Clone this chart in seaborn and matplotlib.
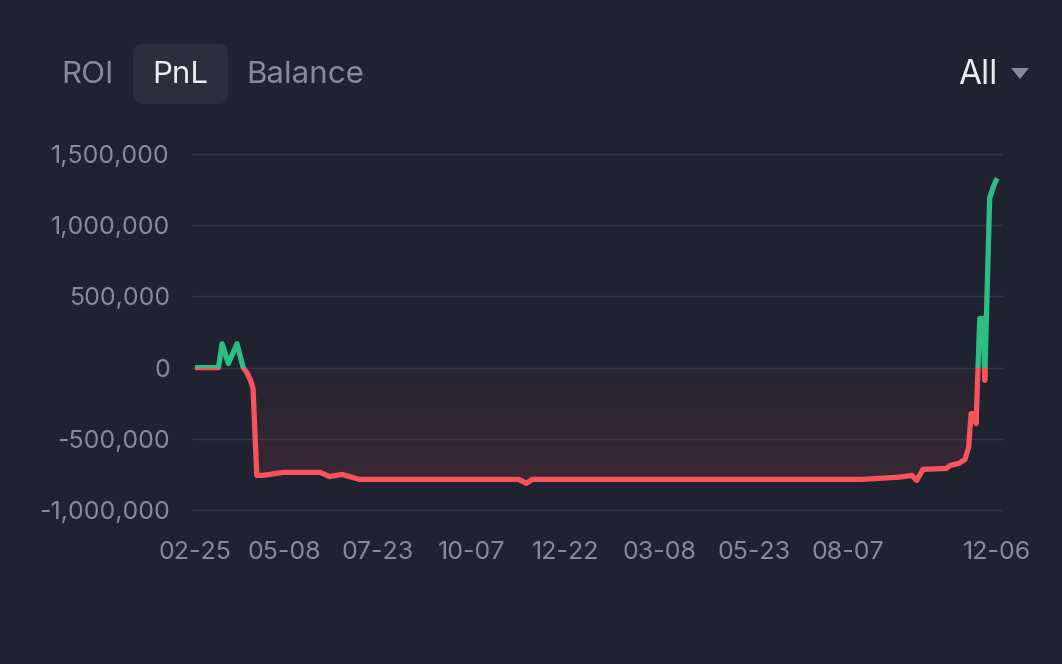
import matplotlib.pyplot as plt
import matplotlib.dates as mdates
import matplotlib.transforms as mtransforms
from matplotlib.colors import LinearSegmentedColormap
from matplotlib.patches import FancyBboxPatch, Polygon, Rectangle
from matplotlib.ticker import FuncFormatter
import numpy as np
import pandas as pd
import seaborn as sns

# PnL curve (key points)
dates = [
    "2022-02-25", "2022-03-16", "2022-03-19", "2022-03-24", "2022-03-31",
    "2022-04-05", "2022-04-08", "2022-04-11", "2022-04-13", "2022-04-16",
    "2022-04-21", "2022-05-02", "2022-05-07", "2022-05-29", "2022-06-06",
    "2022-06-14", "2022-06-24", "2022-07-08", "2022-07-20", "2022-11-14",
    "2022-11-20", "2022-11-25", "2023-08-18", "2023-09-17", "2023-09-28",
    "2023-10-02", "2023-10-07", "2023-10-26", "2023-10-29", "2023-11-05",
    "2023-11-10", "2023-11-13", "2023-11-15", "2023-11-18", "2023-11-19",
    "2023-11-22", "2023-11-25", "2023-11-26", "2023-11-30", "2023-12-03",
    "2023-12-06",
]
pnl = [
    0, 0, 168000, 28000, 168000,
    0, -35000, -91000, -147000, -757000,
    -757000, -743000, -736000, -736000, -736000,
    -765000, -750000, -785000, -785000, -785000,
    -813000, -785000, -785000, -770000, -757000,
    -792000, -715000, -708000, -687000, -673000,
    -645000, -561000, -323000, -323000, -393000,
    345000, 345000, -90000, 1190000, 1270000,
    1330000,
]

tick_dates = [
    "2022-02-25", "2022-05-08", "2022-07-23", "2022-10-07", "2022-12-22",
    "2023-03-08", "2023-05-23", "2023-08-07", "2023-12-06",
]
y_ticks = [-1000000, -500000, 0, 500000, 1000000, 1500000]
tabs = ["ROI", "PnL", "Balance"]
tab_x = [87, 180, 305]
range_label = "All"

BG = "#1f2330"
GRID = "#343845"
TICK = "#868b97"
GREEN = "#2ebd85"
RED = "#f6535a"
WHITE = "#eaecef"

df = pd.DataFrame({"date": pd.to_datetime(dates), "pnl": pnl})

sns.set_theme(style="dark", rc={
    "figure.facecolor": BG,
    "axes.facecolor": BG,
    "savefig.facecolor": BG,
})
plt.rcParams["font.family"] = ["Inter", "DejaVu Sans"]

W, H = 1062, 664
fig = plt.figure(figsize=(W / 100, H / 100), dpi=100)
ax = fig.add_axes([192 / W, 1 - 513 / H, (1003 - 192) / W, 362 / H])
ax.set_facecolor(BG)

# gradient fill under zero
neg = np.minimum(df["pnl"].to_numpy(), 0)
poly = ax.fill_between(df["date"], neg, 0, color="none", lw=0)
x_num = mdates.date2num(df["date"])
cmap = LinearSegmentedColormap.from_list(
    "negfill", [(0.96, 0.33, 0.36, 0.12), (0.96, 0.33, 0.36, 0.03)]
)
grad = np.linspace(0, 1, 256).reshape(-1, 1)
im = ax.imshow(grad, cmap=cmap, origin="lower", aspect="auto",
               extent=[x_num[0], x_num[-1], neg.min(), 0], zorder=1)
im.set_clip_path(poly.get_paths()[0], transform=ax.transData)

# line, green above zero and red below
sns.lineplot(data=df, x="date", y="pnl", color=GREEN, lw=3.8, ax=ax, zorder=3)
green_line = ax.lines[-1]
sns.lineplot(data=df, x="date", y="pnl", color=RED, lw=3.8, ax=ax, zorder=3)
red_line = ax.lines[-1]
blend = mtransforms.blended_transform_factory(ax.transAxes, ax.transData)
green_line.set_clip_path(Rectangle((0, 0), 1, 1e8, transform=blend))
red_line.set_clip_path(Rectangle((0, -1e8), 1, 1e8, transform=blend))
for ln in (green_line, red_line):
    ln.set_solid_joinstyle("round")
    ln.set_solid_capstyle("butt")

ax.set_xlim(pd.Timestamp("2022-02-25") - pd.Timedelta(days=2.4),
            pd.Timestamp("2023-12-06") + pd.Timedelta(days=4.8))
ax.set_ylim(-1021000, 1521000)

ax.set_xticks(pd.to_datetime(tick_dates))
ax.xaxis.set_major_formatter(mdates.DateFormatter("%m-%d"))
ax.set_yticks(y_ticks)
ax.yaxis.set_major_formatter(FuncFormatter(lambda v, p: f"{v:,.0f}"))
ax.tick_params(axis="both", length=0, colors=TICK, labelsize=18)
ax.tick_params(axis="x", pad=20)
ax.tick_params(axis="y", pad=16)
ax.grid(axis="y", color=GRID, lw=1)
ax.grid(axis="x", visible=False)
ax.set_xlabel("")
ax.set_ylabel("")
for s in ax.spines.values():
    s.set_visible(False)

# header tabs
box = FancyBboxPatch((133 / 100, (H - 104) / 100), 95 / 100, 60 / 100,
                     boxstyle="round,pad=0,rounding_size=0.1",
                     transform=fig.dpi_scale_trans, facecolor="#2a2f3b",
                     edgecolor="none")
fig.patches.append(box)
for label, xc in zip(tabs, tab_x):
    fig.text(xc / W, 1 - 75 / H, label, ha="center", va="center",
             fontsize=22.5, color=WHITE if label == "PnL" else TICK)

fig.text(997 / W, 1 - 75 / H, range_label, ha="right", va="center",
         fontsize=24, color=WHITE)
tri = Polygon([(1011 / 100, (H - 68) / 100), (1029 / 100, (H - 68) / 100),
               (1020 / 100, (H - 79) / 100)], closed=True,
              transform=fig.dpi_scale_trans, facecolor=TICK, edgecolor="none")
fig.patches.append(tri)

fig.savefig("out.png", dpi=100)
